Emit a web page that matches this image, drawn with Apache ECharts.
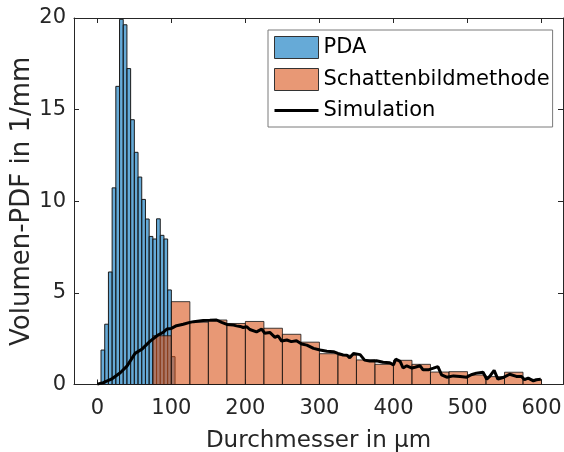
<!DOCTYPE html>
<html>
<head>
<meta charset="utf-8">
<script src="https://cdn.jsdelivr.net/npm/echarts@6/dist/echarts.min.js"></script>
<style>
  html, body { margin: 0; padding: 0; background: #fff; }
  #chart { width: 564px; height: 452px; }
</style>
</head>
<body>
<div id="chart"></div>
<script>
// PDA histogram: bin edges (µm) and volume PDF values (1/mm)
const pdaEdges = [5, 10, 15, 20, 25, 30, 35, 40, 45, 50, 55, 60, 65, 70, 75, 80, 85, 90, 95, 100, 105];
const pdaValues = [1.88, 3.29, 6.14, 10.73, 16.27, 19.93, 19.63, 17.24, 14.45, 12.67,
                   11.32, 10.10, 9.03, 8.08, 7.94, 9.04, 8.14, 7.94, 5.16, 1.52];

// Schattenbildmethode histogram: bin edges (µm) and values (1/mm)
const shadowEdges = [75, 100, 125, 150, 175, 200, 225, 250, 275, 300, 325, 350,
                     375, 400, 425, 450, 475, 500, 525, 550, 575, 600];
const shadowValues = [2.66, 4.52, 3.40, 3.52, 3.33, 3.44, 3.07, 2.74, 2.31, 1.68, 1.60,
                      1.34, 1.10, 1.32, 1.10, 0.68, 0.70, 0.52, 0.43, 0.67, 0.28];

// Simulated volume PDF
const simX = [0, 8, 19, 31, 40, 51, 60, 71, 82, 89, 94, 100, 107, 116, 125, 130, 143, 152, 161,
              168, 175, 184, 188, 193, 197, 202, 206, 215, 222, 226, 233, 240, 244, 249, 256, 262,
              269, 276, 283, 292, 301, 310, 319, 325, 332, 337, 341, 346, 355, 361, 368, 377, 386,
              395, 400, 403, 409, 413, 418, 425, 429, 436, 440, 447, 454, 460, 465, 472, 481, 490,
              499, 505, 512, 521, 526, 530, 536, 541, 548, 557, 566, 573, 577, 582, 589, 593, 599];
const simY = [0.02, 0.10, 0.29, 0.64, 1.00, 1.70, 1.92, 2.35, 2.70, 2.84, 3.03, 3.06, 3.21, 3.29, 3.39,
              3.43, 3.49, 3.50, 3.52, 3.39, 3.28, 3.24, 3.20, 3.17, 3.11, 3.15, 3.00, 2.87, 3.02, 2.80,
              2.84, 2.57, 2.66, 2.37, 2.43, 2.34, 2.39, 2.21, 2.15, 1.97, 1.88, 1.82, 1.79, 1.70, 1.61,
              1.60, 1.46, 1.69, 1.63, 1.33, 1.28, 1.30, 1.21, 1.19, 1.07, 1.38, 1.26, 0.90, 1.02, 0.90,
              0.94, 1.02, 0.80, 0.80, 0.89, 0.98, 0.53, 0.40, 0.47, 0.44, 0.40, 0.53, 0.62, 0.67, 0.29,
              0.44, 0.77, 0.29, 0.38, 0.56, 0.44, 0.44, 0.26, 0.35, 0.20, 0.26, 0.29];

// Axis tick labels
const xTicks = [0, 100, 200, 300, 400, 500, 600];
const yTicks = [0, 5, 10, 15, 20];

const FONT = 'DejaVu Sans';
const AXIS_COLOR = '#262626';

function binsToData(edges, values) {
  return values.map((v, i) => [edges[i], edges[i + 1], v]);
}

function histRenderer(fill, stroke) {
  return function (params, api) {
    const top = api.coord([api.value(0), api.value(2)]);
    const base = api.coord([api.value(1), 0]);
    return {
      type: 'rect',
      shape: { x: top[0], y: top[1], width: base[0] - top[0], height: base[1] - top[1] },
      style: { fill: fill, stroke: stroke, lineWidth: 1 }
    };
  };
}

const chart = echarts.init(document.getElementById('chart'), null, { renderer: 'canvas' });

const xBase = {
  type: 'value', min: -31.5, max: 629,
  axisLine: { show: true, onZero: false, lineStyle: { color: AXIS_COLOR, width: 1 } },
  axisTick: { show: true, inside: true, length: 5, customValues: xTicks, lineStyle: { color: AXIS_COLOR } },
  splitLine: { show: false }
};
const yBase = {
  type: 'value', min: 0, max: 20, interval: 5,
  axisLine: { show: true, onZero: false, lineStyle: { color: AXIS_COLOR, width: 1 } },
  axisTick: { show: true, inside: true, length: 5, customValues: yTicks, lineStyle: { color: AXIS_COLOR } },
  splitLine: { show: false }
};

chart.setOption({
  animation: false,
  backgroundColor: '#fff',
  textStyle: { fontFamily: FONT },
  grid: { left: 74, right: 1, top: 18, bottom: 67.5, containLabel: false, outerBoundsMode: 'none' },
  legend: {
    orient: 'vertical',
    left: 268, top: 30,
    itemWidth: 44, itemHeight: 22, itemGap: 9,
    padding: [6, 3, 6, 5],
    borderColor: '#7a7a7a', borderWidth: 1,
    backgroundColor: '#fff',
    textStyle: { fontFamily: FONT, fontSize: 21, color: '#000' },
    data: [
      { name: 'PDA', icon: 'rect', itemStyle: { color: '#66AAD7', borderColor: '#333', borderWidth: 1 } },
      { name: 'Schattenbildmethode', icon: 'rect', itemStyle: { color: '#E89875', borderColor: '#333', borderWidth: 1 } },
      { name: 'Simulation', itemStyle: { opacity: 0 }, lineStyle: { color: '#000', width: 3 } }
    ]
  },
  xAxis: [
    Object.assign({}, xBase, {
      position: 'bottom',
      name: 'Durchmesser in µm', nameLocation: 'middle', nameGap: 45, nameMoveOverlap: false,
      nameTextStyle: { fontFamily: FONT, fontSize: 23, color: AXIS_COLOR },
      axisLabel: { show: true, customValues: xTicks, margin: 14, fontFamily: FONT, fontSize: 21, color: AXIS_COLOR }
    }),
    Object.assign({}, xBase, { position: 'top', axisLabel: { show: false } })
  ],
  yAxis: [
    Object.assign({}, yBase, {
      position: 'left',
      name: 'Volumen-PDF in 1/mm', nameLocation: 'middle', nameGap: 39, nameMoveOverlap: false,
      nameTextStyle: { fontFamily: FONT, fontSize: 26, color: AXIS_COLOR },
      axisLabel: { show: true, margin: 8, fontFamily: FONT, fontSize: 21, color: AXIS_COLOR }
    }),
    Object.assign({}, yBase, { position: 'right', axisLabel: { show: false } })
  ],
  series: [
    {
      name: 'PDA', type: 'custom',
      xAxisIndex: 0, yAxisIndex: 0,
      itemStyle: { color: '#66AAD7' },
      encode: { x: [0, 1], y: 2 },
      renderItem: histRenderer('rgba(0,114,189,0.6)', '#1a1a1a'),
      data: binsToData(pdaEdges, pdaValues),
      z: 2
    },
    {
      name: 'Schattenbildmethode', type: 'custom',
      xAxisIndex: 0, yAxisIndex: 0,
      itemStyle: { color: '#E89875' },
      encode: { x: [0, 1], y: 2 },
      renderItem: histRenderer('rgba(217,83,25,0.6)', 'rgba(20,20,20,0.8)'),
      data: binsToData(shadowEdges, shadowValues),
      z: 3
    },
    {
      name: 'Simulation', type: 'line',
      xAxisIndex: 0, yAxisIndex: 0,
      showSymbol: false, symbol: 'none',
      lineStyle: { color: '#000', width: 3 },
      itemStyle: { color: '#000' },
      data: simX.map((x, i) => [x, simY[i]]),
      z: 4
    }
  ]
});
</script>
</body>
</html>
